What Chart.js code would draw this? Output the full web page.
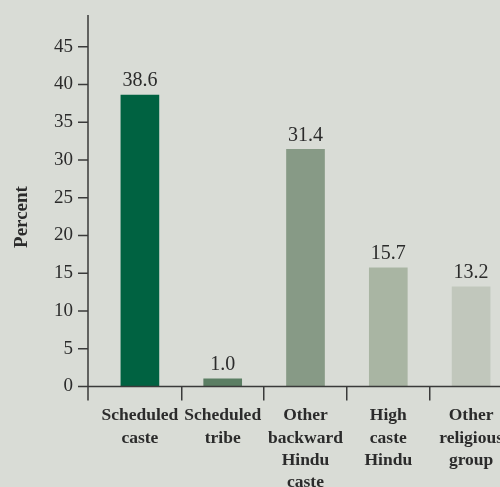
<!DOCTYPE html>
<html>
<head>
<meta charset="utf-8">
<script src="https://cdn.jsdelivr.net/npm/chart.js@4"></script>
<style>
  html, body { margin: 0; padding: 0; width: 500px; height: 487px; overflow: hidden; background: #d9dcd6; }
  #wrap { position: absolute; left: 0; top: 0; width: 520px; height: 487px; }
</style>
</head>
<body>
<div id="wrap"><canvas id="chart"></canvas></div>
<script>
const categories = [
  ["Scheduled", "caste"],
  ["Scheduled", "tribe"],
  ["Other", "backward", "Hindu", "caste"],
  ["High", "caste", "Hindu"],
  ["Other", "religious", "group"]
];
const percents = [38.6, 1.0, 31.4, 15.7, 13.2];
const barColors = ["#006241", "#5b7e63", "#879a86", "#a9b5a3", "#c1c7bc"];
const yTicks = [0, 5, 10, 15, 20, 25, 30, 35, 40, 45];

const ink = "#2b2b2b";
const serif = "'Liberation Serif', 'DejaVu Serif', serif";

// axis lines, y tick marks, axis title and value labels
const decor = {
  id: "decor",
  afterDraw(chart) {
    const ctx = chart.ctx;
    const area = chart.chartArea;
    const y = chart.scales.y;
    const axisX = area.left - 10.5;
    ctx.save();
    ctx.strokeStyle = "#3a3a3a";
    ctx.lineWidth = 1.5;
    ctx.beginPath();
    ctx.moveTo(axisX, area.top);
    ctx.lineTo(axisX, area.bottom + 14);
    ctx.moveTo(axisX, area.bottom);
    ctx.lineTo(chart.width, area.bottom);
    yTicks.forEach(v => {
      const py = y.getPixelForValue(v);
      ctx.moveTo(axisX - 10, py);
      ctx.lineTo(axisX, py);
    });
    ctx.stroke();

    ctx.fillStyle = ink;
    ctx.font = "20px " + serif;
    ctx.textAlign = "center";
    ctx.textBaseline = "bottom";
    chart.getDatasetMeta(0).data.forEach((bar, i) => {
      ctx.fillText(percents[i].toFixed(1), bar.x, bar.y - 4);
    });

    ctx.translate(22, 217);
    ctx.rotate(-Math.PI / 2);
    ctx.font = "bold 19px " + serif;
    ctx.textBaseline = "middle";
    ctx.fillText("Percent", 0, 0);
    ctx.restore();
  }
};

new Chart(document.getElementById("chart"), {
  type: "bar",
  data: {
    labels: categories,
    datasets: [{
      data: percents,
      backgroundColor: barColors,
      barThickness: 38
    }]
  },
  options: {
    responsive: true,
    maintainAspectRatio: false,
    animation: false,
    layout: { padding: { top: 15, right: 7.5, left: 0, bottom: 0 } },
    plugins: { legend: { display: false }, tooltip: { enabled: false } },
    scales: {
      x: {
        offset: true,
        grid: {
          drawOnChartArea: false,
          tickLength: 14,
          lineWidth: 1.5,
          color: c => (c.index === 0 ? "rgba(0,0,0,0)" : "#3a3a3a")
        },
        border: { display: false },
        ticks: {
          color: ink,
          font: { family: serif, size: 17.5, weight: "bold", lineHeight: 1.28 },
          padding: 4,
          maxRotation: 0,
          autoSkip: false
        },
        afterFit: s => { s.height = 100.5; s.paddingLeft = 0; s.paddingRight = 0; }
      },
      y: {
        min: 0,
        max: 49.2,
        grid: { display: false, drawTicks: false },
        border: { display: false },
        ticks: {
          stepSize: 5,
          color: ink,
          font: { family: serif, size: 19 },
          padding: 25.5
        },
        afterBuildTicks: s => { s.ticks = yTicks.map(v => ({ value: v })); },
        afterFit: s => { s.width = 98.5; s.paddingTop = 0; s.paddingBottom = 0; }
      }
    }
  },
  plugins: [decor]
});
</script>
</body>
</html>
